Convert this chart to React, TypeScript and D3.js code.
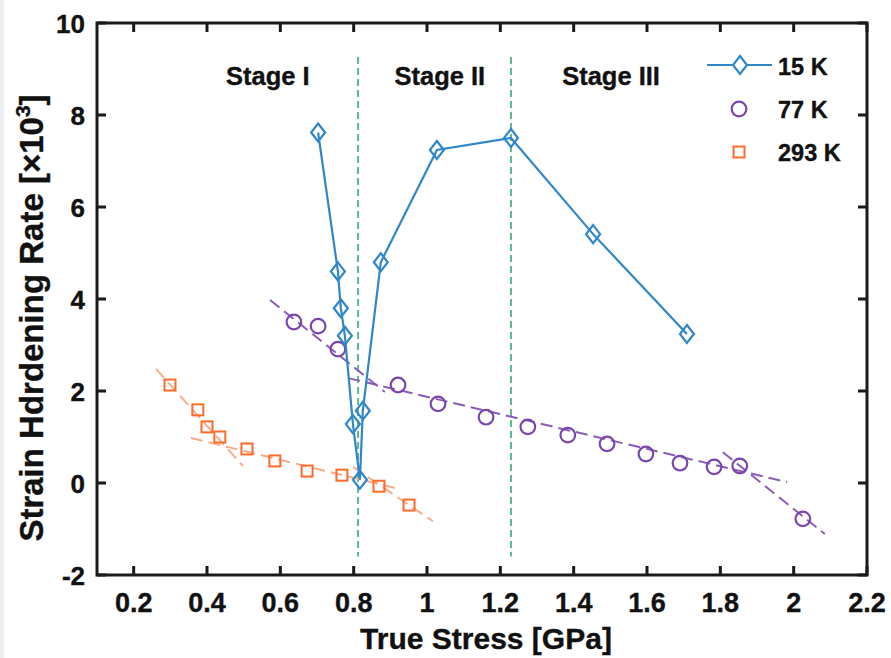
import React from "react";
import * as d3 from "d3";

const stress15 = [0.703, 0.757, 0.765, 0.776, 0.798, 0.817, 0.825, 0.874, 1.027, 1.229, 1.453, 1.709];
const rate15 = [7.62, 4.6, 3.8, 3.2, 1.28, 0.07, 1.57, 4.8, 7.24, 7.5, 5.41, 3.24];

const stress77 = [0.637, 0.703, 0.757, 0.921, 1.03, 1.161, 1.275, 1.384, 1.491, 1.597, 1.69, 1.783, 1.853, 2.025];
const rate77 = [3.5, 3.41, 2.91, 2.13, 1.72, 1.43, 1.22, 1.04, 0.85, 0.63, 0.43, 0.35, 0.37, -0.78];

const stress293 = [0.299, 0.375, 0.4, 0.435, 0.509, 0.585, 0.673, 0.768, 0.869, 0.951];
const rate293 = [2.13, 1.59, 1.22, 1.0, 0.74, 0.48, 0.26, 0.17, -0.07, -0.48];

// fitted segments [x0, y0, x1, y1]
const fit77 = [
  [0.572, 3.98, 0.885, 1.98],
  [0.785, 2.28, 1.982, 0.02],
  [1.807, 0.67, 2.085, -1.11],
];
const fit293 = [
  [0.261, 2.48, 0.498, 0.37],
  [0.356, 0.98, 0.924, -0.13],
  [0.798, 0.35, 1.016, -0.83],
];

const stageBounds = [0.812, 1.229];
const stageLabels = ["Stage I", "Stage II", "Stage III"];
const stageLabelX = [0.566, 1.035, 1.502];
const stageLabelY = 8.65;

const xTicks = [0.2, 0.4, 0.6, 0.8, 1, 1.2, 1.4, 1.6, 1.8, 2, 2.2];
const yTicks = [-2, 0, 2, 4, 6, 8, 10];
const legendLabels = ["15 K", "77 K", "293 K"];

const BLUE = "#2f87c8";
const PURPLE = "#7a46ad";
const PURPLE_FIT = "#8a5cb8";
const ORANGE = "#ff6a2a";
const ORANGE_FIT = "#f7ad8c";
const GREEN = "#5bb98a";
const FONT = "'Liberation Sans', Arial, Helvetica, sans-serif";
const TXT = { fontFamily: FONT, fontWeight: "bold" as const, fill: "#111", stroke: "#111", strokeWidth: 0.35 };

export default function App() {
  const W = 891, H = 658;
  const L = 97, R = 867, T = 23, B = 575;
  const x = d3.scaleLinear().domain([0.1, 2.2]).range([L, R]);
  const y = d3.scaleLinear().domain([-2, 10]).range([B, T]);
  const line = d3.line<[number, number]>().x((d) => x(d[0])).y((d) => y(d[1]));
  const pts15: [number, number][] = stress15.map((s, i) => [s, rate15[i]]);
  const diamond = (cx: number, cy: number) =>
    `M${cx},${cy - 9}L${cx + 7},${cy}L${cx},${cy + 9}L${cx - 7},${cy}Z`;
  const tickLen = 9;

  return (
    <svg width={W} height={H} style={{ position: "absolute", left: 0, top: 0, background: "#fff" }}>
      <rect x={0} y={0} width={4} height={H} fill="#eceef2" />
      {/* stage boundaries */}
      {stageBounds.map((b, i) => (
        <line key={i} x1={x(b)} x2={x(b)} y1={y(9.26)} y2={y(-1.6)} stroke={GREEN} strokeWidth={2} strokeDasharray="7,4" />
      ))}
      {stageLabels.map((s, i) => (
        <text key={s} x={x(stageLabelX[i])} y={y(stageLabelY)} textAnchor="middle" fontSize={25.5} {...TXT}>
          {s}
        </text>
      ))}
      {/* fits */}
      {fit293.map((f, i) => (
        <line key={"o" + i} x1={x(f[0])} y1={y(f[1])} x2={x(f[2])} y2={y(f[3])} stroke={ORANGE_FIT} strokeWidth={2} strokeDasharray="12,6" />
      ))}
      {fit77.map((f, i) => (
        <line key={"p" + i} x1={x(f[0])} y1={y(f[1])} x2={x(f[2])} y2={y(f[3])} stroke={PURPLE_FIT} strokeWidth={2} strokeDasharray="12,6" />
      ))}
      {/* 293 K */}
      {stress293.map((s, i) => (
        <rect key={"s" + i} x={x(s) - 5.5} y={y(rate293[i]) - 5.5} width={11} height={11} fill="none" stroke={ORANGE} strokeWidth={2} />
      ))}
      {/* 77 K */}
      {stress77.map((s, i) => (
        <circle key={"c" + i} cx={x(s)} cy={y(rate77[i])} r={7.3} fill="none" stroke={PURPLE} strokeWidth={2.2} />
      ))}
      {/* 15 K */}
      <path d={line(pts15) || ""} fill="none" stroke={BLUE} strokeWidth={2.2} />
      {pts15.map((p, i) => (
        <path key={"d" + i} d={diamond(x(p[0]), y(p[1]))} fill="none" stroke={BLUE} strokeWidth={2.2} />
      ))}
      {/* axes box */}
      <rect x={L} y={T} width={R - L} height={B - T} fill="none" stroke="#1a1a1a" strokeWidth={3} />
      {xTicks.map((t) => (
        <g key={"xt" + t}>
          <line x1={x(t)} x2={x(t)} y1={B} y2={B - tickLen} stroke="#1a1a1a" strokeWidth={3} />
          <line x1={x(t)} x2={x(t)} y1={T} y2={T + tickLen} stroke="#1a1a1a" strokeWidth={3} />
          <text x={x(t)} y={612} textAnchor="middle" fontSize={27} {...TXT}>
            {String(t)}
          </text>
        </g>
      ))}
      {yTicks.map((t) => (
        <g key={"yt" + t}>
          <line x1={L} x2={L + tickLen} y1={y(t)} y2={y(t)} stroke="#1a1a1a" strokeWidth={3} />
          <line x1={R} x2={R - tickLen} y1={y(t)} y2={y(t)} stroke="#1a1a1a" strokeWidth={3} />
          <text x={85} y={y(t) + 9.5} textAnchor="end" fontSize={26} {...TXT}>
            {String(t)}
          </text>
        </g>
      ))}
      {/* axis titles */}
      <text x={486} y={649} textAnchor="middle" fontSize={30} {...TXT}>
        True Stress [GPa]
      </text>
      <text transform={`translate(43,${318}) rotate(-90)`} textAnchor="middle" fontSize={33} {...TXT}>
        Strain Hdrdening Rate [×10<tspan fontSize={21} dy={-13}>3</tspan><tspan dy={13}>]</tspan>
      </text>
      {/* legend */}
      <g>
        <line x1={707} x2={772} y1={65} y2={65} stroke={BLUE} strokeWidth={2.2} />
        <path d={diamond(740, 65)} fill="#fff" stroke={BLUE} strokeWidth={2.2} />
        <circle cx={739} cy={109} r={7.3} fill="none" stroke={PURPLE} strokeWidth={2.2} />
        <rect x={733.5} y={146.5} width={11} height={11} fill="none" stroke={ORANGE} strokeWidth={2} />
        {legendLabels.map((l, i) => (
          <text key={l} x={778} y={75 + i * 43} fontSize={23.5} {...TXT}>
            {l}
          </text>
        ))}
      </g>
    </svg>
  );
}
